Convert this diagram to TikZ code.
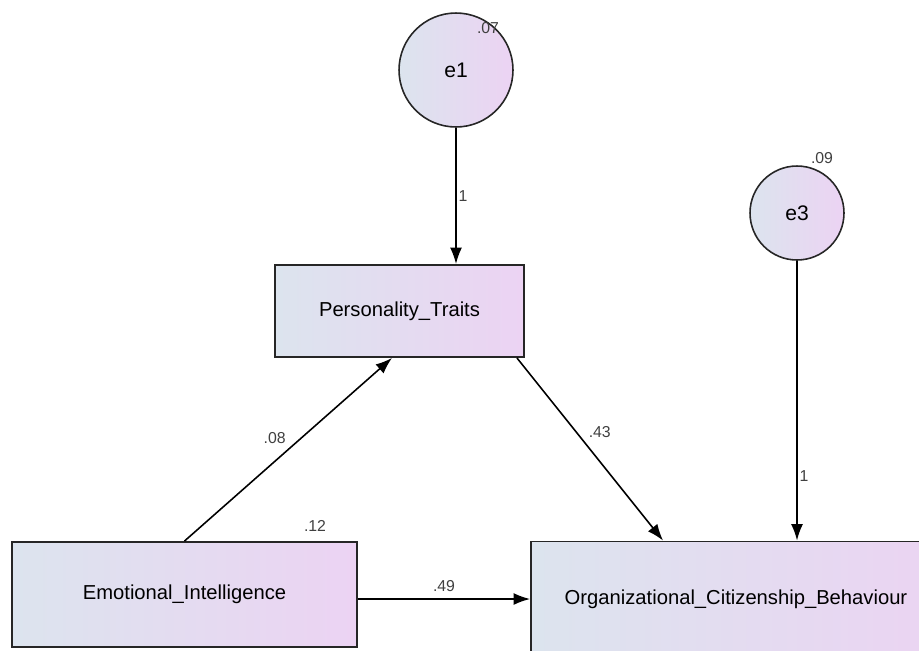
\documentclass[tikz,border=0pt]{standalone}
\usepackage{fontspec}
\setmainfont{Liberation Sans}
\usepackage{tikz}
\usetikzlibrary{arrows.meta,positioning,shapes.geometric}

\definecolor{semleft}{HTML}{DCE4EE}
\definecolor{semright}{HTML}{ECD3F3}

\begin{document}
\begin{tikzpicture}[x=0.02cm, y=-0.02cm,
  observed/.style={rectangle, draw=black!85, line width=1.1pt, left color=semleft,
    right color=semright, inner sep=0pt, font=\fontsize{11.5}{13}\selectfont},
  errterm/.style={circle, draw=black!85, line width=0.9pt, left color=semleft,
    right color=semright, minimum size=2.28cm, inner sep=0pt,
    font=\fontsize{12}{14}\selectfont},
  estimate/.style={font=\fontsize{9}{10}\selectfont, text=black!75, inner sep=1pt},
  regpath/.style={-{Latex[length=0.33cm,width=0.24cm]}, line width=0.9pt}
]
  \useasboundingbox (0,0) rectangle (919,650);
  \clip (0,0) rectangle (919,650);

  % Observed variables
  \node[observed, minimum width=4.98cm, minimum height=1.84cm] (pt) at (399.5, 311) {Personality\_Traits};
  \node[observed, minimum width=6.9cm, minimum height=2.1cm] (ei) at (184.5, 594.5) {Emotional\_Intelligence};
  \node[observed, minimum width=8.6cm, minimum height=2.3cm] (ocb) at (746, 599) {\hspace*{-0.4cm}Organizational\_Citizenship\_Behaviour};

  % Error terms
  \node[errterm] (e1) at (456, 70) {e1};
  \node[errterm, minimum size=1.88cm] (e3) at (797, 213) {e3};

  % Variances
  \node[estimate] (v1) at (488, 28) {.07};
  \node[estimate] (v3) at (822, 158) {.09};
  \node[estimate] (vei) at (315, 526) {.12};

  % Paths
  \draw[regpath] (e1.south) -- (e1.south |- pt.north) node[estimate, midway, right] {1};
  \draw[regpath] (e3.south) -- (e3.south |- ocb.north) node[estimate, pos=0.77, right] {1};
  \draw[regpath] (ei.north) -- ([xshift=-0.15cm]pt.south) node[estimate, pos=0.5, above left=2pt and 0pt] {.08};
  \draw[regpath] ([xshift=-0.16cm]pt.south east) -- ([xshift=2.66cm]ocb.north west) node[estimate, pos=0.45, above right=0pt and 2pt] {.43};
  \draw[regpath] (ei.east |- ocb.west) -- (ocb.west) node[estimate, midway, above=3pt] {.49};
\end{tikzpicture}
\end{document}
